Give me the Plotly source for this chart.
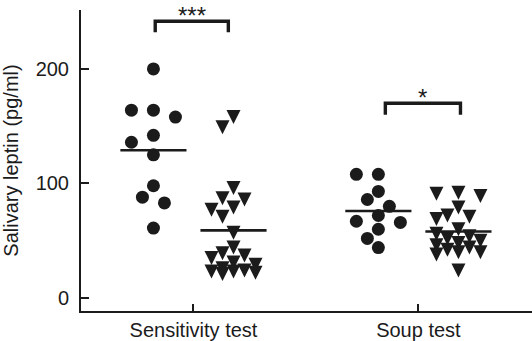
import math
import plotly.graph_objects as go

# ---------------- data ----------------
categories = ["Sensitivity test", "Soup test"]
circle_values = [
    [200, 164, 164, 158, 142, 136, 125, 98, 88, 83, 61],
    [108, 108, 93, 86, 80, 72, 67, 66, 60, 52, 44],
]
triangle_values = [
    [160, 151, 98, 89, 88, 81, 79, 73, 59, 46, 41, 39, 37, 33, 31, 28, 26, 25, 25, 24, 23],
    [94, 93, 91, 81, 74, 73, 71, 62, 58, 56, 54, 52, 50, 48, 46, 44, 42, 42, 40, 26],
]
circle_means = [129, 76]
triangle_means = [59, 58]
significance = ["***", "*"]
y_tick_values = [0, 100, 200]

# ---------------- layout constants ----------------
W, H = 532, 341
ML, MR, MT, MB = 81, 0, 10, 30
X_RANGE = [-0.5, 1.505]
Y_RANGE = [-11.4, 251.5]
XPX = (W - ML - MR) / (X_RANGE[1] - X_RANGE[0])   # px per x unit
YPX = (H - MT - MB) / (Y_RANGE[1] - Y_RANGE[0])   # px per y unit
GROUP_OFFSET = 0.178
MEAN_HALF = 0.147
INK = "#1b1b1b"
FONT = "Liberation Sans, Arial, Helvetica, sans-serif"


def swarm(values, step_px, min_dist_px, max_steps):
    """Deterministic beeswarm: returns x offsets (in x units)."""
    order = sorted(range(len(values)), key=lambda i: -values[i])
    cands = [0.0]
    for k in range(1, max_steps + 1):
        cands += [-k * step_px, k * step_px]
    placed = []
    offs = [0.0] * len(values)
    for i in order:
        y = values[i] * YPX
        chosen, best_c, best_d = None, 0.0, -1.0
        for c in cands:
            d = min((math.hypot(c - px, y - py) for px, py in placed), default=1e9)
            if d >= min_dist_px:
                chosen = c
                break
            if d > best_d:
                best_d, best_c = d, c
        if chosen is None:
            chosen = best_c
        placed.append((chosen, y))
        offs[i] = chosen / XPX
    return offs


fig = go.Figure()

for gi, cat in enumerate(categories):
    cx = gi - GROUP_OFFSET
    tx = gi + GROUP_OFFSET
    c_off = swarm(circle_values[gi], 11, 13, 2)
    t_off = swarm(triangle_values[gi], 11, 12, 2)
    fig.add_trace(go.Scatter(
        x=[cx + o for o in c_off], y=circle_values[gi], mode="markers",
        marker=dict(symbol="circle", size=13, color=INK, line=dict(width=0)),
        showlegend=False, hoverinfo="y"))
    fig.add_trace(go.Scatter(
        x=[tx + o for o in t_off], y=triangle_values[gi], mode="markers",
        marker=dict(symbol="arrow-down", size=14, color=INK, standoff=9.3,
                    line=dict(width=0)),
        showlegend=False, hoverinfo="y"))
    # mean lines
    for center, m in ((cx, circle_means[gi]), (tx, triangle_means[gi])):
        fig.add_trace(go.Scatter(
            x=[center - MEAN_HALF, center + MEAN_HALF], y=[m, m], mode="lines",
            line=dict(color=INK, width=2.6), showlegend=False, hoverinfo="skip"))

# significance brackets
bracket_x = [(-0.17, 0.155), (-0.147, 0.187)]
bracket_y = [(232, 241.7), (160, 170)]
for gi, sig in enumerate(significance):
    x0, x1 = gi + bracket_x[gi][0], gi + bracket_x[gi][1]
    y0, y1 = bracket_y[gi]
    fig.add_shape(type="path", xref="x", yref="y",
                  path=f"M {x0},{y0} L {x0},{y1} L {x1},{y1} L {x1},{y0}",
                  line=dict(color=INK, width=3.4))
    fig.add_annotation(x=(x0 + x1) / 2, y=y1, xref="x", yref="y", text=sig,
                       showarrow=False, yanchor="top", yshift=21,
                       font=dict(family=FONT, size=24, color=INK))

fig.update_layout(
    width=W, height=H,
    margin=dict(l=ML, r=MR, t=MT, b=MB, autoexpand=False),
    paper_bgcolor="white", plot_bgcolor="white",
    font=dict(family=FONT, size=20, color=INK),
    showlegend=False,
)
fig.update_xaxes(
    range=X_RANGE, tickvals=list(range(len(categories))), ticktext=categories,
    showline=True, linecolor=INK, linewidth=2, ticks="inside", ticklen=7,
    tickwidth=2, tickcolor=INK, showgrid=False, zeroline=False,
    tickfont=dict(family=FONT, size=20, color=INK), automargin=False,
)
fig.update_yaxes(
    range=Y_RANGE, tickvals=y_tick_values,
    showline=True, linecolor=INK, linewidth=2, ticks="inside", ticklen=8,
    tickwidth=2, tickcolor=INK, showgrid=False, zeroline=False,
    tickfont=dict(family=FONT, size=20, color=INK), ticklabelstandoff=6,
    automargin=False,
    title=dict(text="Salivary leptin (pg/ml)", standoff=14,
               font=dict(family=FONT, size=20, color=INK)),
)

fig.write_html(
    "out.html",
    config={"displayModeBar": False},
    post_script="document.body.style.margin='0';document.body.style.overflow='hidden';",
)
